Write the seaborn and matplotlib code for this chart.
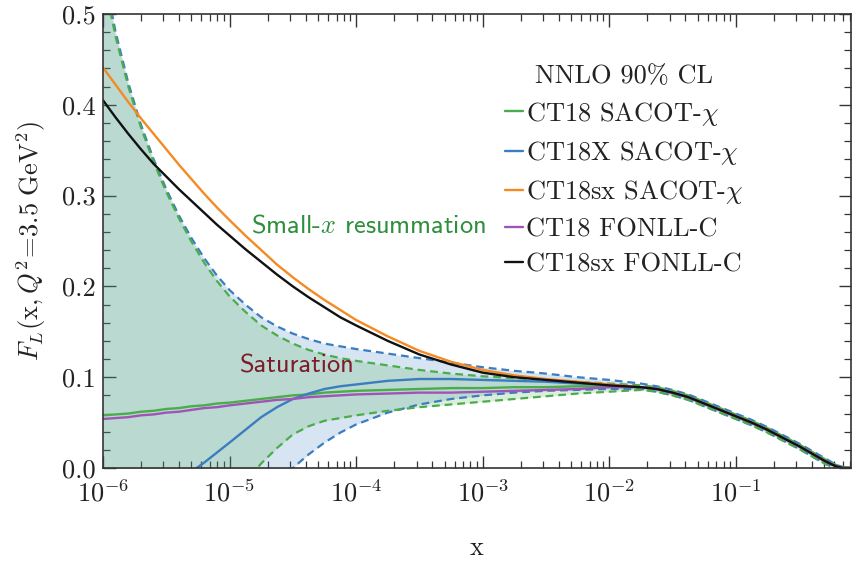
import numpy as np
import matplotlib
matplotlib.use("Agg")
import matplotlib.pyplot as plt
from matplotlib.ticker import LogLocator, LogFormatterMathtext, MultipleLocator, FormatStrFormatter, NullFormatter
from matplotlib.lines import Line2D
import seaborn as sns

# log10(x) sampling points shared by all curves
log_x = [-6.0, -5.9, -5.8, -5.7, -5.6, -5.5, -5.4, -5.3, -5.2, -5.1,
         -5.0, -4.875, -4.75, -4.625, -4.5, -4.375, -4.25, -4.125, -4.0,
         -3.75, -3.5, -3.25, -3.0, -2.75, -2.5, -2.25, -2.0,
         -1.75, -1.625, -1.5, -1.375, -1.25, -1.125, -1.0, -0.875, -0.75, -0.625,
         -0.5, -0.4, -0.3, -0.25, -0.2, -0.15, -0.1, -0.05]

# common large-x part of F_L (x >= 10^-1.75), where all sets agree
tail = [0.089, 0.087, 0.083, 0.078, 0.071, 0.064, 0.057, 0.050, 0.042, 0.033,
        0.024, 0.016, 0.008, 0.0045, 0.0015, 0.0, 0.0, 0.0]

# central predictions
ct18_sacot = [0.058, 0.059, 0.060, 0.062, 0.063, 0.065, 0.066, 0.068, 0.069, 0.071,
              0.072, 0.074, 0.076, 0.078, 0.080, 0.081, 0.083, 0.084, 0.085,
              0.086, 0.087, 0.088, 0.088, 0.089, 0.089, 0.090, 0.090] + tail
ct18x_sacot = [np.nan, np.nan, np.nan, np.nan, np.nan, np.nan, -0.015, -0.004, 0.006, 0.017,
               0.028, 0.042, 0.056, 0.067, 0.076, 0.082, 0.087, 0.090, 0.092,
               0.096, 0.098, 0.098, 0.097, 0.096, 0.095, 0.093, 0.092] + tail
ct18sx_sacot = [0.441, 0.422, 0.403, 0.385, 0.368, 0.351, 0.334, 0.318, 0.302, 0.287,
                0.273, 0.256, 0.240, 0.224, 0.210, 0.197, 0.185, 0.174, 0.163,
                0.145, 0.129, 0.117, 0.108, 0.102, 0.098, 0.095, 0.092] + tail
ct18_fonll = [0.054, 0.055, 0.056, 0.058, 0.059, 0.061, 0.062, 0.064, 0.066, 0.067,
              0.069, 0.071, 0.073, 0.075, 0.076, 0.078, 0.079, 0.080, 0.081,
              0.082, 0.083, 0.083, 0.084, 0.085, 0.086, 0.087, 0.089] + tail
ct18sx_fonll = [0.405, 0.386, 0.368, 0.351, 0.335, 0.321, 0.307, 0.294, 0.281, 0.268,
                0.256, 0.241, 0.227, 0.213, 0.200, 0.188, 0.177, 0.166, 0.157,
                0.140, 0.125, 0.114, 0.105, 0.100, 0.097, 0.094, 0.091] + tail

# 90% CL uncertainty bands (values below zero run off the bottom of the axes)
ct18_hi = [0.540, 0.475, 0.420, 0.375, 0.337, 0.304, 0.275, 0.249, 0.226, 0.206,
           0.189, 0.172, 0.157, 0.146, 0.137, 0.130, 0.125, 0.121, 0.118,
           0.113, 0.108, 0.104, 0.101, 0.099, 0.097, 0.095, 0.093,
           0.091, 0.089, 0.085, 0.080, 0.073, 0.066, 0.059, 0.052, 0.044, 0.035,
           0.026, 0.018, 0.010, 0.006, 0.003, 0.001, 0.0, 0.0]
ct18_lo = [-0.05, -0.05, -0.05, -0.05, -0.05, -0.05, -0.05, -0.05, -0.05, -0.05,
           -0.04, -0.015, 0.005, 0.022, 0.037, 0.046, 0.052, 0.055, 0.058,
           0.063, 0.067, 0.070, 0.073, 0.076, 0.079, 0.082, 0.084,
           0.086, 0.084, 0.080, 0.075, 0.068, 0.061, 0.054, 0.047, 0.039, 0.030,
           0.021, 0.013, 0.005, 0.002, 0.0, 0.0, 0.0, 0.0]
ct18x_hi = [0.550, 0.480, 0.424, 0.378, 0.340, 0.307, 0.278, 0.253, 0.231, 0.212,
            0.196, 0.180, 0.166, 0.156, 0.148, 0.142, 0.137, 0.134, 0.131,
            0.126, 0.121, 0.116, 0.111, 0.107, 0.104, 0.100, 0.097,
            0.093, 0.090, 0.086, 0.081, 0.074, 0.067, 0.060, 0.053, 0.045, 0.036,
            0.027, 0.019, 0.011, 0.007, 0.003, 0.001, 0.0, 0.0]
ct18x_lo = [-0.05, -0.05, -0.05, -0.05, -0.05, -0.05, -0.05, -0.05, -0.05, -0.05,
            -0.05, -0.05, -0.04, -0.018, 0.0, 0.015, 0.028, 0.039, 0.048,
            0.061, 0.070, 0.076, 0.080, 0.083, 0.085, 0.086, 0.087,
            0.087, 0.084, 0.080, 0.075, 0.068, 0.061, 0.054, 0.047, 0.039, 0.030,
            0.021, 0.013, 0.005, 0.002, 0.0, 0.0, 0.0, 0.0]

labels = [r"CT18 SACOT-$\chi$", r"CT18X SACOT-$\chi$", r"CT18sx SACOT-$\chi$",
          "CT18 FONLL-C", "CT18sx FONLL-C"]
colors = ["#4aac4a", "#3b7dc0", "#f58a22", "#a054b8", "#111111"]

sns.set_theme(style="ticks")
plt.rcParams["font.family"] = ["cmr10", "DejaVu Serif"]
plt.rcParams["mathtext.fontset"] = "cm"
plt.rcParams["axes.unicode_minus"] = False
plt.rcParams["axes.formatter.use_mathtext"] = True

x = 10 ** np.array(log_x)

fig = plt.figure(figsize=(8.52, 5.62), dpi=100)
ax = fig.add_axes([103 / 852, 94 / 562, 748 / 852, 454 / 562])

# uncertainty bands
ax.fill_between(x, ct18x_lo, ct18x_hi, color=colors[1], alpha=0.2, linewidth=0)
ax.fill_between(x, ct18_lo, ct18_hi, color=colors[0], alpha=0.2, linewidth=0)
for hi, lo, c in [(ct18x_hi, ct18x_lo, colors[1]), (ct18_hi, ct18_lo, colors[0])]:
    for edge in (hi, lo):
        sns.lineplot(x=x, y=edge, ax=ax, color=c, linewidth=1.6, linestyle=(0, (3.5, 2.2)),
                     estimator=None, sort=False)

# central curves
for y, c in zip([ct18_sacot, ct18x_sacot, ct18sx_sacot, ct18_fonll, ct18sx_fonll], colors):
    sns.lineplot(x=x, y=y, ax=ax, color=c, linewidth=1.7, estimator=None, sort=False)

ax.set_xscale("log")
ax.set_xlim(1e-6, 10 ** -0.09)
ax.set_ylim(0.0, 0.5)

ax.xaxis.set_major_locator(LogLocator(base=10, numticks=10))
ax.xaxis.set_minor_locator(LogLocator(base=10, subs=np.arange(2, 10), numticks=100))
ax.xaxis.set_major_formatter(LogFormatterMathtext())
ax.xaxis.set_minor_formatter(NullFormatter())
ax.yaxis.set_major_locator(MultipleLocator(0.1))
ax.yaxis.set_minor_locator(MultipleLocator(0.02))
ax.yaxis.set_major_formatter(FormatStrFormatter("%.1f"))

ax.tick_params(which="both", direction="in", top=True, right=True, colors="#333333",
               labelcolor="#222222", labelsize=19)
ax.tick_params(which="major", length=9, width=1.0, pad=5)
ax.tick_params(axis="x", which="major", pad=8)
ax.tick_params(which="minor", length=5, width=0.9)
for s in ax.spines.values():
    s.set_color("#333333")
    s.set_linewidth(1.2)

ax.set_xlabel("x", fontsize=19, labelpad=22, color="#222222")
ax.set_ylabel(r"$F_L(\mathrm{x},Q^2\!=\!3.5\ \mathrm{GeV}^2)$", fontsize=19, labelpad=10,
              color="#222222")

ax.text(10 ** -4.83, 0.266, r"Small-$x$ resummation", family="cmss10", fontsize=19,
        color="#2e8f3c", va="center", ha="left")
ax.text(10 ** -4.92, 0.112, "Saturation", family="cmss10", fontsize=19,
        color="#7f1a2a", va="center", ha="left")

handles = [Line2D([], [], color=c, linewidth=1.7) for c in colors]
leg = ax.legend(handles, labels, title="NNLO 90% CL", loc="upper left",
                bbox_to_anchor=(494 / 852, 1 - 54 / 562), bbox_transform=fig.transFigure,
                frameon=False, fontsize=19, title_fontsize=19, handlelength=0.7,
                handletextpad=0.12, labelspacing=0.43, borderaxespad=0)
for t in leg.get_texts():
    t.set_color("#222222")
leg.get_title().set_color("#222222")

fig.savefig("out.png", dpi=100)
